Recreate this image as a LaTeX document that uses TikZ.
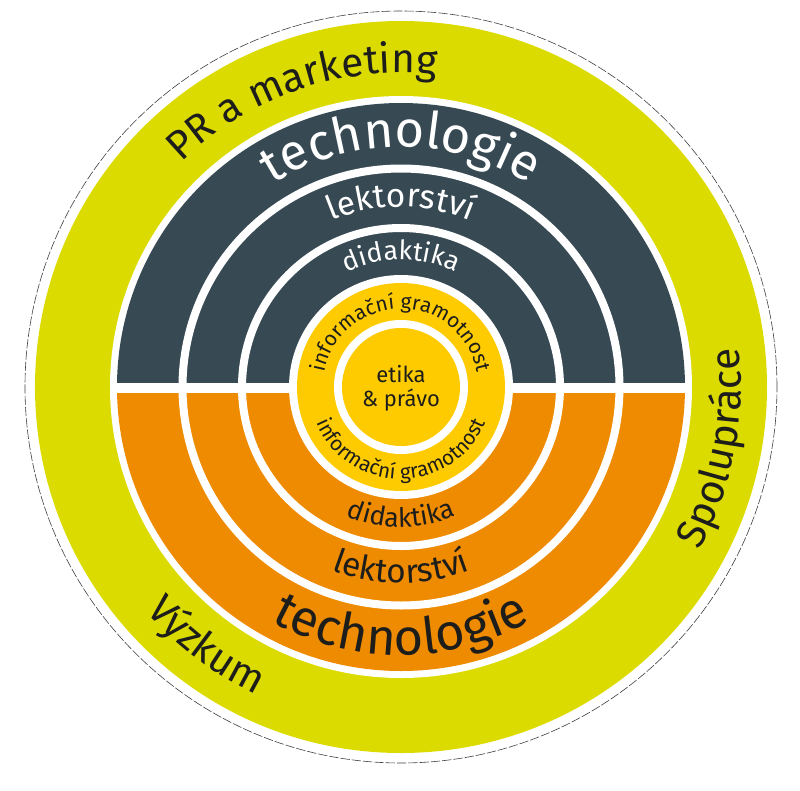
\documentclass[tikz,border=0pt]{standalone}
\usepackage{fontspec}
\setmainfont{Fira Sans}
\usetikzlibrary{decorations.text}

\definecolor{limegreen}{HTML}{DCDB00}
\definecolor{slate}{HTML}{374A54}
\definecolor{tangerine}{HTML}{EF8B00}
\definecolor{sunflower}{HTML}{FECB00}
\definecolor{ink}{HTML}{1D1D1B}

% font sizes (1 unit = 1 px of the 800 x 790 canvas)
\newcommand\techsize{\fontsize{38}{38}\selectfont}
\newcommand\lektsize{\fontsize{25}{25}\selectfont}
\newcommand\didsize{\fontsize{20}{20}\selectfont}
\newcommand\infosize{\fontsize{15.5}{15.5}\selectfont}
\newcommand\outsize{\fontsize{30.5}{30.5}\selectfont}

\tikzset{
	bend text/.style={decorate, decoration={text along path, text align=center, text={#1}}},
	gap/.style={white, line width=6pt},
}

\begin{document}
\begin{tikzpicture}[x=0.75pt, y=0.75pt]
	
	% canvas, centre of the rings in the origin
	\useasboundingbox (-401,-403) rectangle (399,387);
	
	\def\outerRadius{366} % Radius of the outer ring
	\def\innerRadius{291} % Inner edge of the outer ring
	\def\bandRadius{284} % Radius of the half rings
	
	% Draw the outer ring
	\draw[black!75, dash pattern=on 7pt off 1.5pt, line width=0.45pt] (0,0) circle (376);
	\fill[limegreen] (0,0) circle (\outerRadius);
	\fill[white] (0,0) circle (\innerRadius);
	
	% Upper and lower half
	\fill[slate] (-\bandRadius,0) arc[start angle=180, end angle=0, radius=\bandRadius] -- cycle;
	\fill[tangerine] (\bandRadius,0) arc[start angle=0, end angle=-180, radius=\bandRadius] -- cycle;
	
	% White gaps between the bands
	\foreach \r in {218.5, 159} {
		\draw[gap] (0,0) circle (\r);
	}
	\fill[white] (-\bandRadius-2,-6) rectangle (\bandRadius+2,4);
	
	% Centre
	\fill[white] (0,0) circle (112);
	\fill[sunflower] (0,0) circle (104);
	\fill[white] (0,0) circle (67);
	\fill[sunflower] (0,0) circle (59);
	
	\node[align=center, text=ink, font=\fontsize{16.5}{18}\selectfont] (ethics) at (0,-1) {etika\\\& právo};
	
	% Labels of the upper half
	\path[bend text={|\techsize\color{white}|technologie}] (170:240) arc[start angle=170, end angle=10, radius=240];
	\path[bend text={|\lektsize\color{white}|lektorství}] (170:180) arc[start angle=170, end angle=10, radius=180];
	\path[bend text={|\didsize\color{white}|didaktika}] (170:127) arc[start angle=170, end angle=10, radius=127];
	\path[bend text={|\infosize\color{ink}|informační gramotnost}] (178:78) arc[start angle=178, end angle=2, radius=78];
	
	% Labels of the lower half
	\path[bend text={|\techsize\color{ink}|technologie}] (190:268) arc[start angle=190, end angle=350, radius=268];
	\path[bend text={|\lektsize\color{ink}|lektorství}] (190:196) arc[start angle=190, end angle=350, radius=196];
	\path[bend text={|\didsize\color{ink}|didaktika}] (190:140) arc[start angle=190, end angle=350, radius=140];
	\path[bend text={|\infosize\color{ink}|informační gramotnost}] (182:92) arc[start angle=182, end angle=358, radius=92];
	
	% Labels of the outer ring
	\path[bend text={|\outsize\color{ink}|PR a marketing}] (169:314) arc[start angle=169, end angle=49, radius=314];
	\path[bend text={|\outsize\color{ink}|Spolupráce}] (-51:340) arc[start angle=-51, end angle=29, radius=340];
	\path[bend text={|\outsize\color{ink}|Výzkum}] (193:340) arc[start angle=193, end angle=273, radius=340];
	
\end{tikzpicture}
\end{document}
